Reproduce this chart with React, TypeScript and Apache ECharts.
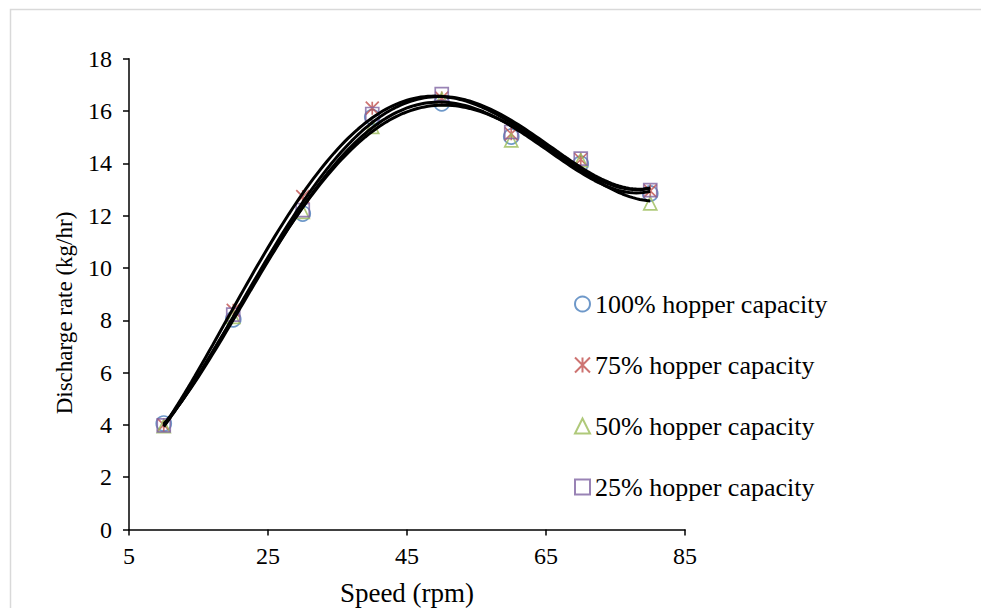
import React, { useEffect, useRef } from "react";
import * as echarts from "echarts";

const speed = [10, 20, 30, 40, 50, 60, 70, 80];
const cap100 = [4.05, 8.04, 12.08, 15.77, 16.3, 15.03, 13.99, 12.85];
const cap75 = [4.0, 8.38, 12.73, 16.11, 16.5, 15.13, 14.15, 12.95];
const cap50 = [3.95, 8.13, 12.15, 15.4, 16.46, 14.88, 14.12, 12.47];
const cap25 = [3.98, 8.22, 12.21, 15.89, 16.65, 15.2, 14.18, 12.98];

const seriesNames = [
  "100% hopper capacity",
  "75% hopper capacity",
  "50% hopper capacity",
  "25% hopper capacity",
];
const seriesValues = [cap100, cap75, cap50, cap25];
const seriesColors = ["#4A7EBB", "#C0504D", "#9BBB59", "#8064A2"];
const seriesSymbols = [
  "circle",
  "path://M0,0L10,10M10,0L0,10M5,0L5,10",
  "triangle",
  "rect",
];
const seriesSizes = [15, 13, 13, 13];

const xTitle = "Speed (rpm)";
const yTitle = "Discharge rate (kg/hr)";

const FONT = "'Liberation Serif', 'Times New Roman', serif";

// Polynomial least-squares trendline (as the original chart's trendlines), computed from the data arrays
function polyfit(xs: number[], ys: number[], deg: number) {
  const n = deg + 1;
  const u = xs.map((x) => (x - 45) / 35);
  const A: number[][] = Array.from({ length: n }, () => new Array(n + 1).fill(0));
  for (let k = 0; k < xs.length; k++) {
    for (let r = 0; r < n; r++) {
      for (let c = 0; c < n; c++) A[r][c] += Math.pow(u[k], r + c);
      A[r][n] += Math.pow(u[k], r) * ys[k];
    }
  }
  for (let i = 0; i < n; i++) {
    let p = i;
    for (let r = i + 1; r < n; r++) if (Math.abs(A[r][i]) > Math.abs(A[p][i])) p = r;
    [A[i], A[p]] = [A[p], A[i]];
    for (let r = 0; r < n; r++) {
      if (r === i) continue;
      const f = A[r][i] / A[i][i];
      for (let c = i; c <= n; c++) A[r][c] -= f * A[i][c];
    }
  }
  const coef = A.map((row, i) => row[n] / row[i]);
  return (x: number) => {
    const t = (x - 45) / 35;
    return coef.reduce((s, c, i) => s + c * Math.pow(t, i), 0);
  };
}

export default function App() {
  const ref = useRef<HTMLDivElement>(null);
  useEffect(() => {
    if (!ref.current) return;
    const chart = echarts.init(ref.current, null, { renderer: "svg" });
    const scatter = seriesNames.map((name, i) => ({
      name,
      type: "scatter",
      symbol: seriesSymbols[i],
      symbolSize: seriesSizes[i],
      data: speed.map((x, j) => [x, seriesValues[i][j]]),
      itemStyle: {
        color: "rgba(0,0,0,0)",
        borderColor: seriesColors[i],
        borderWidth: 1.7,
      },
      z: 2,
    }));
    const xMin = speed[0];
    const xMax = speed[speed.length - 1];
    const trends = seriesNames.map((name, i) => {
      const f = polyfit(speed, seriesValues[i], 4);
      const pts: number[][] = [];
      for (let x = xMin; x <= xMax + 1e-9; x += 0.5) pts.push([x, f(x)]);
      return {
        name: name + " trend",
        type: "line",
        symbol: "none",
        data: pts,
        lineStyle: { color: "#000", width: 3 },
        z: 3,
      };
    });
    chart.setOption({
      animation: false,
      backgroundColor: "#fff",
      grid: { left: 129, right: 296, top: 58.8, bottom: 78.5, outerBoundsMode: "none" },
      xAxis: {
        type: "value",
        min: 5,
        max: 85,
        interval: 20,
        name: xTitle,
        nameLocation: "middle",
        nameGap: 50,
        nameTextStyle: { fontFamily: FONT, fontSize: 27, color: "#000" },
        axisLine: { lineStyle: { color: "#000", width: 1.5 } },
        axisTick: { show: true, inside: false, length: 6, lineStyle: { color: "#000", width: 1.5 } },
        axisLabel: { fontFamily: FONT, fontSize: 24, color: "#000", margin: 14 },
        splitLine: { show: false },
      },
      yAxis: {
        type: "value",
        min: 0,
        max: 18,
        interval: 2,
        axisLine: { show: true, lineStyle: { color: "#000", width: 1.5 } },
        axisTick: { show: true, inside: false, length: 6, lineStyle: { color: "#000", width: 1.5 } },
        axisLabel: { fontFamily: FONT, fontSize: 24, color: "#000", margin: 17 },
        splitLine: { show: false },
      },
      legend: {
        orient: "vertical",
        left: 569,
        top: 286,
        itemWidth: 15,
        itemHeight: 15,
        itemGap: 35,
        data: seriesNames,
        textStyle: { fontFamily: FONT, fontSize: 26, color: "#000" },
      },
      graphic: [
        {
          type: "rect",
          shape: { x: 10.5, y: 9.5, width: 1000, height: 640 },
          style: { fill: "none", stroke: "#d9d9d9", lineWidth: 1.5 },
          silent: true,
          z: -10,
        },
        {
          type: "text",
          x: 64,
          y: 313,
          rotation: Math.PI / 2,
          style: {
            text: yTitle,
            font: `23px ${FONT}`,
            fill: "#000",
            textAlign: "center",
            textVerticalAlign: "middle",
          },
        },
      ],
      series: [...scatter, ...trends],
    });
    return () => chart.dispose();
  }, []);
  return (
    <div
      ref={ref}
      style={{ position: "fixed", left: 0, top: 0, width: 981, height: 608 }}
    />
  );
}
